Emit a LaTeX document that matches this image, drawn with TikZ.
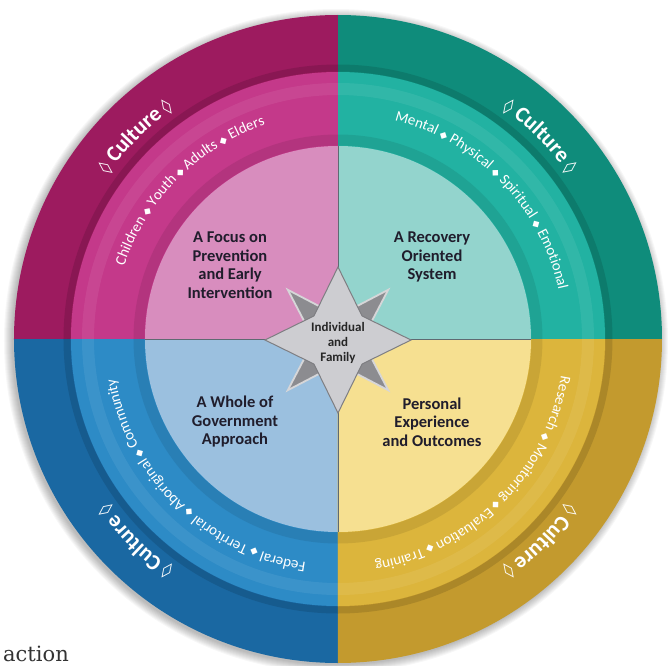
\documentclass[tikz,border=0pt]{standalone}
\usepackage{fontspec}
\setmainfont{Carlito}
\newfontfamily\dejavu{DejaVu Sans}
\newfontfamily\dserif{DejaVu Serif}
\usetikzlibrary{decorations.text}

\definecolor{magA}{HTML}{9D1B5F}
\definecolor{magB}{HTML}{C4398A}
\definecolor{magC}{HTML}{D88DBE}
\definecolor{teaA}{HTML}{0F8C7B}
\definecolor{teaB}{HTML}{22B2A2}
\definecolor{teaC}{HTML}{93D4CD}
\definecolor{bluA}{HTML}{1A68A2}
\definecolor{bluB}{HTML}{2D8BC6}
\definecolor{bluC}{HTML}{9BC0DF}
\definecolor{golA}{HTML}{C39A2E}
\definecolor{golB}{HTML}{DCB53C}
\definecolor{golC}{HTML}{F6E091}
\definecolor{labelc}{HTML}{201D2C}
\definecolor{starfront}{HTML}{CDCDD1}
\definecolor{starfrontedge}{HTML}{7E7E82}
\definecolor{starback}{HTML}{8C8C90}
\definecolor{starbackedge}{HTML}{D6D6D8}
\definecolor{divline}{HTML}{5F6A72}

\newcommand\culttxt{\rmfamily\bfseries\fontsize{22}{22}\selectfont}
\newcommand\cultdm{\dejavu\mdseries\fontsize{17}{17}\selectfont}
\newcommand\ringtxt{\rmfamily\mdseries\fontsize{15}{15}\selectfont}
\newcommand\ringdm{\dejavu\mdseries\fontsize{10}{10}\selectfont}

\tikzset{
  lbl/.style={font=\bfseries\fontsize{16.5}{18.5}\selectfont, text=labelc, align=center},
  culture/.style={decorate, decoration={text along path, text align=center, text color=white,
      text={|\cultdm|◊|\culttxt| Culture |\cultdm|◊}}},
  ringtext/.style={decorate, decoration={text along path, text align=center, text color=white,
      text={#1}}}
}

\begin{document}
\begin{tikzpicture}[x=1pt,y=1pt]
\useasboundingbox (-338,-326) rectangle (332,339);
\fill[white] (-338,-326) rectangle (332,339);

% soft shadow
\foreach \i in {1,...,9} \fill[black,opacity=0.03] (-2,-2) circle ({323+\i});

% rings and quadrants
\foreach \a/\c in {0/tea,90/mag,180/blu,270/gol}{
  \fill[\c A] (0,0) -- (\a:324) arc[start angle=\a, delta angle=90, radius=324] -- cycle;
  \draw[\c A!60!black, opacity=.3, line width=7pt] (\a:271) arc[start angle=\a, delta angle=90, radius=271];
  \fill[\c B] (0,0) -- (\a:267) arc[start angle=\a, delta angle=90, radius=267] -- cycle;
  \draw[white, opacity=.07, line width=12pt] (\a:250) arc[start angle=\a, delta angle=90, radius=250];
  \draw[\c B!70!black, opacity=.28, line width=11pt] (\a:199) arc[start angle=\a, delta angle=90, radius=199];
  \fill[\c C] (0,0) -- (\a:193) arc[start angle=\a, delta angle=90, radius=193] -- cycle;
}
\draw[divline, line width=0.9pt] (-193,0) -- (193,0);
\draw[divline, line width=0.9pt] (0,-193) -- (0,193);

% Culture labels in outer ring
\path[culture] (175:283) arc[start angle=175, end angle=95, radius=283];
\path[culture] (85:283) arc[start angle=85, end angle=5, radius=283];
\path[culture] (-5:283) arc[start angle=-5, end angle=-85, radius=283];
\path[culture] (265:283) arc[start angle=265, end angle=185, radius=283];

% middle ring texts
\path[ringtext={|\ringtxt|Children |\ringdm|◆|\ringtxt| Youth |\ringdm|◆|\ringtxt| Adults |\ringdm|◆|\ringtxt| Elders}]
  (195:226) arc[start angle=195, end angle=75, radius=226];
\path[ringtext={|\ringtxt|Mental |\ringdm|◆|\ringtxt| Physical |\ringdm|◆|\ringtxt| Spiritual |\ringdm|◆|\ringtxt| Emotional}]
  (104:226) arc[start angle=104, end angle=-16, radius=226];
\path[ringtext={|\ringtxt|Research |\ringdm|◆|\ringtxt| Monitoring |\ringdm|◆|\ringtxt| Evaluation |\ringdm|◆|\ringtxt| Training}]
  (15:226) arc[start angle=15, end angle=-105, radius=226];
\path[ringtext={|\ringtxt|Federal |\ringdm|◆|\ringtxt| Territorial |\ringdm|◆|\ringtxt| Aboriginal |\ringdm|◆|\ringtxt| Community}]
  (286:226) arc[start angle=286, end angle=166, radius=226];

% quadrant labels
\node[lbl] (focus) at (-108,74) {A Focus on\\Prevention\\and Early\\Intervention};
\node[lbl] (recovery) at (94,82) {A Recovery\\Oriented\\System};
\node[lbl] (whole) at (-103,-83) {A Whole of\\Government\\Approach};
\node[lbl] (personal) at (94,-83) {Personal\\Experience\\and Outcomes};

% central star
\begin{scope}[shift={(0,-1)}]
\filldraw[fill=starback, draw=starbackedge, line width=1.8pt, line join=miter]
  (45:71) -- (90:24) -- (135:71) -- (180:24) -- (225:71) -- (270:24) -- (315:71) -- (0:24) -- cycle;
\filldraw[fill=starfront, draw=starfrontedge, line width=1pt, line join=miter]
  (0:73) -- (45:34) -- (90:73) -- (135:34) -- (180:73) -- (225:34) -- (270:73) -- (315:34) -- cycle;
\end{scope}
\node[font=\bfseries\fontsize{13}{15}\selectfont, text=black!85, align=center] (indiv) at (0,-4) {Individual\\and\\Family};

% cropped caption fragment
\node[font=\dserif\fontsize{21}{21}\selectfont, text=black!80, anchor=base west, inner sep=0pt] (action) at (-335,-322) {action};
\end{tikzpicture}
\end{document}
